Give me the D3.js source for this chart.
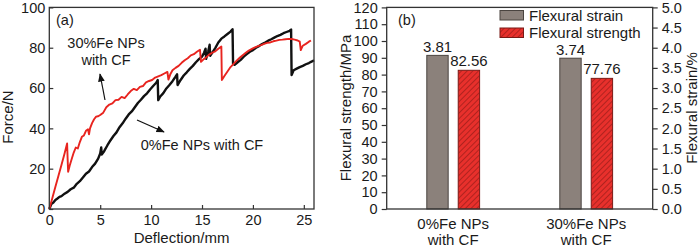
<!DOCTYPE html>
<html><head><meta charset="utf-8">
<script src="https://cdn.jsdelivr.net/npm/d3@7"></script>
<style>
body{margin:0;background:#fff}
svg{display:block}
text{font-family:"Liberation Sans",Arial,sans-serif;fill:#1a1a1a}
</style></head>
<body><svg id="c" width="700" height="247"></svg>
<script>
// ---------- Panel (a) data: force–deflection curves ----------
const defl0 = [0,0.2,0.4,0.6,0.8,1.0,1.2,1.5,1.8,2.1,2.4,2.7,3.0,3.3,3.6,3.9,4.2,4.5,4.8,5.0,5.1,5.15,5.4,5.7,6.0,6.3,6.6,6.9,7.2,7.5,7.8,8.1,8.4,8.7,9.0,9.3,9.6,9.9,10.2,10.5,10.65,10.7,10.9,11.2,11.5,11.8,12.1,12.4,12.55,12.6,12.9,13.2,13.5,13.8,14.1,14.4,14.7,15.0,15.2,15.35,15.4,15.6,15.75,15.8,16.0,16.3,16.6,16.9,17.2,17.5,17.8,18.0,18.05,18.2,18.5,18.8,19.1,19.4,19.7,20.0,20.3,20.6,20.9,21.2,21.5,21.8,22.1,22.4,22.7,23.0,23.3,23.6,23.75,23.8,24.0,24.3,24.6,24.9,25.2,25.5,25.8,26.0];
const force0 = [0,2.5,3.2,4.5,5.2,6.0,6.4,7.6,8.5,9.8,10.6,12.5,13.8,15.6,17.5,18.6,20.8,22.5,25.0,27.5,30.5,27.0,28.8,31.5,34.0,36.2,38.0,40.6,42.5,44.8,46.9,48.4,50.5,52.6,54.2,56.0,57.4,59.3,61.0,62.6,64.0,54.0,55.8,57.5,59.8,61.5,63.4,65.6,66.8,61.5,64.0,66.2,67.8,69.5,71.0,72.8,74.3,75.6,77.5,79.5,74.5,78.0,81.5,76.0,77.5,79.8,82.6,84.5,85.6,86.8,88.0,89.2,72.0,71.5,72.8,74.0,75.6,76.8,78.0,78.8,80.0,80.8,81.8,82.6,83.5,84.2,85.0,85.8,86.4,87.2,87.8,88.4,89.0,66.5,68.8,69.6,70.4,71.0,71.8,72.4,73.2,73.8];
const defl30 = [0,0.3,0.6,0.9,1.2,1.5,1.75,1.8,1.85,2.0,2.2,2.4,2.6,2.8,3.0,3.2,3.4,3.6,3.8,3.9,4.0,4.2,4.4,4.6,4.8,5.0,5.3,5.6,5.9,6.2,6.5,6.8,7.1,7.4,7.7,8.0,8.3,8.6,8.9,9.2,9.5,9.8,10.1,10.4,10.7,11.0,11.3,11.6,11.7,11.9,12.1,12.4,12.7,13.0,13.3,13.6,13.9,14.2,14.5,14.8,14.9,15.1,15.4,15.7,16.0,16.3,16.6,16.9,16.95,17.2,17.5,17.8,18.1,18.4,18.7,19.0,19.3,19.6,19.9,20.2,20.5,20.8,21.1,21.4,21.7,22.0,22.3,22.6,22.9,23.2,23.5,23.8,24.1,24.4,24.6,24.7,24.9,25.2,25.5,25.7];
const force30 = [0,5.5,11.0,16.5,22.0,27.5,32.5,25.0,18.5,21.5,24.8,28.0,30.5,30.0,33.2,35.8,36.5,38.8,39.5,37.0,40.0,42.6,44.5,45.8,46.0,46.6,47.8,50.5,51.8,52.4,54.0,54.2,55.6,55.0,56.8,58.5,59.6,59.0,60.6,61.0,62.8,63.5,64.0,65.2,65.8,66.4,67.2,68.0,64.2,67.0,68.8,70.0,71.0,72.5,73.8,74.8,76.2,76.8,78.0,79.0,73.0,74.0,75.2,76.6,77.5,78.2,79.5,80.6,64.0,66.0,68.2,70.4,72.0,73.6,75.0,76.3,77.5,78.6,79.4,80.2,80.8,81.3,81.9,82.4,82.6,83.2,83.5,83.9,84.0,84.2,84.4,84.3,84.0,83.6,83.0,78.8,81.0,81.9,83.0,83.6];
const xTicksA = [0,5,10,15,20,25];
const yTicksA = [0,20,40,60,80,100];

// ---------- Panel (b) data: bars ----------
const categories = ["0%Fe NPs", "30%Fe NPs"];
const categorySub = ["with CF", "with CF"];
const seriesNames = ["Flexural strain", "Flexural strength"];
const strainValues = [3.81, 3.74];      // right axis, %
const strengthValues = [82.56, 77.76];  // left axis, MPa
const strainLabels = ["3.81", "3.74"];
const strengthLabels = ["82.56", "77.76"];
const yTicksLeftB = [0,10,20,30,40,50,60,70,80,90,100,110,120];
const yTicksRightB = [0,0.5,1.0,1.5,2.0,2.5,3.0,3.5,4.0,4.5,5.0];

const svg = d3.select("#c");
const axisColor = "#333";
const black = "#111", red = "#e8241f";
const grayFill = "#8b817b", redFill = "#e8302c";

// defs: hatch + arrow
const defs = svg.append("defs");
const pat = defs.append("pattern").attr("id","hatch").attr("patternUnits","userSpaceOnUse")
  .attr("width",4).attr("height",4).attr("patternTransform","rotate(45)");
pat.append("rect").attr("width",4).attr("height",4).attr("fill",redFill);
pat.append("line").attr("x1",0).attr("y1",0).attr("x2",0).attr("y2",4)
  .attr("stroke","#8a1a16").attr("stroke-width",1.2);
defs.append("marker").attr("id","arr").attr("viewBox","0 0 10 10").attr("refX",9).attr("refY",5)
  .attr("markerWidth",7).attr("markerHeight",7).attr("orient","auto-start-reverse")
  .append("path").attr("d","M0,1 L10,5 L0,9 Z").attr("fill","#111");

// ================= Panel (a) =================
const A = {l:49.3, r:314, t:7.4, b:209};
const xa = d3.scaleLinear().domain([0,26]).range([A.l, A.r]);
const ya = d3.scaleLinear().domain([0,100]).range([A.b, A.t]);

const gxa = svg.append("g").attr("transform",`translate(0,${A.b})`)
  .call(d3.axisBottom(xa).tickValues(xTicksA).tickSizeInner(-4).tickSizeOuter(0).tickPadding(6));
const gya = svg.append("g").attr("transform",`translate(${A.l},0)`)
  .call(d3.axisLeft(ya).tickValues(yTicksA).tickSizeInner(-4).tickSizeOuter(0).tickPadding(4));
[gxa,gya].forEach(g=>{
  g.select(".domain").remove();
  g.selectAll(".tick line").attr("stroke",axisColor).attr("stroke-width",1.2);
  g.selectAll(".tick text").attr("font-size",14.5).attr("fill","#1a1a1a")
   .attr("font-family",'"Liberation Sans",Arial,sans-serif');
});

const lineA = d3.line().x(d=>xa(d[0])).y(d=>ya(d[1]));
svg.append("path").datum(d3.zip(defl0, force0)).attr("d", lineA)
  .attr("fill","none").attr("stroke",black).attr("stroke-width",2.4).attr("stroke-linejoin","round");
svg.append("path").datum(d3.zip(defl30, force30)).attr("d", lineA)
  .attr("fill","none").attr("stroke",red).attr("stroke-width",1.9).attr("stroke-linejoin","round");

svg.append("rect").attr("x",A.l).attr("y",A.t).attr("width",A.r-A.l).attr("height",A.b-A.t)
  .attr("fill","none").attr("stroke",axisColor).attr("stroke-width",1.3);

svg.append("text").attr("x",56).attr("y",25).attr("font-size",14.5).text("(a)");
svg.append("text").attr("x",106).attr("y",48).attr("font-size",14.5).attr("text-anchor","middle").text("30%Fe NPs");
svg.append("text").attr("x",106).attr("y",65).attr("font-size",14.5).attr("text-anchor","middle").text("with CF");
svg.append("line").attr("x1",105).attr("y1",100).attr("x2",100).attr("y2",74)
  .attr("stroke","#111").attr("stroke-width",1.2).attr("marker-end","url(#arr)");
svg.append("text").attr("x",202).attr("y",150).attr("font-size",14.5).attr("text-anchor","middle").text("0%Fe NPs with CF");
svg.append("line").attr("x1",137).attr("y1",120).attr("x2",164).attr("y2",132)
  .attr("stroke","#111").attr("stroke-width",1.2).attr("marker-end","url(#arr)");

svg.append("text").attr("x",181.6).attr("y",243).attr("font-size",15).attr("text-anchor","middle").text("Deflection/mm");
svg.append("text").attr("transform","translate(13,117) rotate(-90)").attr("font-size",15)
  .attr("text-anchor","middle").text("Force/N");

// ================= Panel (b) =================
const B = {l:386.7, r:652.7, t:7.4, b:209};
const x0 = d3.scalePoint().domain(categories).range([B.l, B.r]).padding(0.5);
const x1 = d3.scaleBand().domain(seriesNames).range([-26.4, 26.4]).paddingInner(0.32);
const yL = d3.scaleLinear().domain([0,120]).range([B.b, B.t]);
const yR = d3.scaleLinear().domain([0,5]).range([B.b, B.t]);

const gyl = svg.append("g").attr("transform",`translate(${B.l},0)`)
  .call(d3.axisLeft(yL).tickValues(yTicksLeftB).tickSizeInner(5).tickSizeOuter(0).tickPadding(4));
const gyr = svg.append("g").attr("transform",`translate(${B.r},0)`)
  .call(d3.axisRight(yR).tickValues(yTicksRightB).tickFormat(d3.format(".1f")).tickSizeInner(5).tickSizeOuter(0).tickPadding(4));
[gyl,gyr].forEach(g=>{
  g.select(".domain").remove();
  g.selectAll(".tick line").attr("stroke",axisColor).attr("stroke-width",1.2);
  g.selectAll(".tick text").attr("font-size",14.5).attr("fill","#1a1a1a")
   .attr("font-family",'"Liberation Sans",Arial,sans-serif');
});

// bars
categories.forEach((c,i)=>{
  const cx = x0(c);
  const gx = cx + x1(seriesNames[0]);
  const rx = cx + x1(seriesNames[1]);
  const bw = x1.bandwidth();
  svg.append("rect").attr("x",gx).attr("y",yR(strainValues[i])).attr("width",bw)
    .attr("height",yR(0)-yR(strainValues[i])).attr("fill",grayFill).attr("stroke","#4a4440").attr("stroke-width",1);
  svg.append("rect").attr("x",rx).attr("y",yL(strengthValues[i])).attr("width",bw)
    .attr("height",yL(0)-yL(strengthValues[i])).attr("fill","url(#hatch)").attr("stroke","#7a1a16").attr("stroke-width",1);
  svg.append("text").attr("x",gx+bw/2).attr("y",yR(strainValues[i])-3.5).attr("font-size",15)
    .attr("text-anchor","middle").text(strainLabels[i]);
  svg.append("text").attr("x",rx+bw/2).attr("y",yL(strengthValues[i])-4).attr("font-size",15)
    .attr("text-anchor","middle").text(strengthLabels[i]);
  svg.append("text").attr("x",cx).attr("y",228.5).attr("font-size",15).attr("text-anchor","middle").text(c);
  svg.append("text").attr("x",cx).attr("y",245).attr("font-size",15).attr("text-anchor","middle").text(categorySub[i]);
});

svg.append("rect").attr("x",B.l).attr("y",B.t).attr("width",B.r-B.l).attr("height",B.b-B.t)
  .attr("fill","none").attr("stroke",axisColor).attr("stroke-width",1.3);

svg.append("text").attr("x",398).attr("y",25).attr("font-size",14.5).text("(b)");

// legend
const legFills = [grayFill, "url(#hatch)"];
const legStrokes = ["#4a4440", "#7a1a16"];
seriesNames.forEach((s,i)=>{
  const ly = 10.5 + i*17.5;
  svg.append("rect").attr("x",500).attr("y",ly).attr("width",23.5).attr("height",9.5)
    .attr("fill",legFills[i]).attr("stroke",legStrokes[i]).attr("stroke-width",1);
  svg.append("text").attr("x",529).attr("y",ly+10).attr("font-size",15).text(s);
});

svg.append("text").attr("transform","translate(351,108) rotate(-90)").attr("font-size",15)
  .attr("text-anchor","middle").text("Flexural strength/MPa");
svg.append("text").attr("transform","translate(697,108) rotate(-90)").attr("font-size",15)
  .attr("text-anchor","middle").text("Flexural strain/%");
</script></body></html>
